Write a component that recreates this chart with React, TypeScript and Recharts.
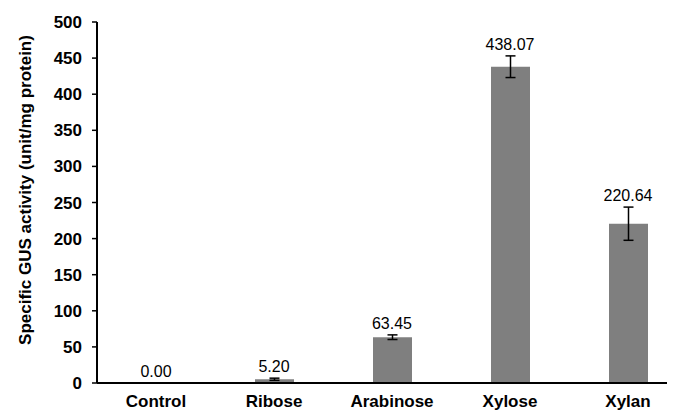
import React from "react";
import {
  ComposedChart,
  Bar,
  Line,
  XAxis,
  YAxis,
  ErrorBar,
  LabelList,
} from "recharts";

const categories = ["Control", "Ribose", "Arabinose", "Xylose", "Xylan"];
const activity = [0, 5.2, 63.45, 438.07, 220.64];
const errors = [0, 1.5, 3.2, 15, 23];
const yTicks = [0, 50, 100, 150, 200, 250, 300, 350, 400, 450, 500];

const FONT = "'Liberation Sans', Arial, sans-serif";
const BAR_COLOR = "#7f7f7f";

const data = categories.map((name, i) => ({
  name,
  value: activity[i],
  err: errors[i],
  top: activity[i] + errors[i],
}));

export default function App() {
  return (
    <div style={{ width: 667, height: 404, overflow: "hidden", background: "#fff" }}>
      <ComposedChart
        width={700}
        height={404}
        data={data}
        margin={{ top: 14, right: 21, bottom: 5, left: 19 }}
      >
        <XAxis
          dataKey="name"
          axisLine={{ stroke: "#000", strokeWidth: 2 }}
          tickLine={false}
          tickMargin={6}
          height={24}
          tick={{ fill: "#000", fontSize: 17, fontWeight: "bold", fontFamily: FONT }}
        />
        <YAxis
          domain={[0, 500]}
          ticks={yTicks}
          width={70}
          interval={0}
          axisLine={{ stroke: "#000", strokeWidth: 2 }}
          tickLine={{ stroke: "#000", strokeWidth: 1.5 }}
          tickSize={5}
          tickMargin={10}
          tick={{ fill: "#000", fontSize: 17, fontWeight: "bold", fontFamily: FONT }}
          label={{
            content: () => (
              <text
                x={17}
                y={182}
                transform="rotate(-90 17 182)"
                textAnchor="middle"
                dominantBaseline="central"
                fontSize={17}
                fontWeight="bold"
                fontFamily={FONT}
                fill="#000"
              >
                Specific GUS activity (unit/mg protein)
              </text>
            ),
          }}
        />
        <Bar dataKey="value" fill={BAR_COLOR} barSize={39} isAnimationActive={false}>
          <ErrorBar dataKey="err" width={5} stroke="#000" strokeWidth={1.5} />
        </Bar>
        <Line
          dataKey="top"
          stroke="none"
          dot={false}
          activeDot={false}
          isAnimationActive={false}
        >
          <LabelList
            dataKey="value"
            position="top"
            offset={6}
            formatter={(v: number) => Number(v).toFixed(2)}
            style={{ fill: "#000", fontSize: 16, fontFamily: FONT }}
          />
        </Line>
      </ComposedChart>
    </div>
  );
}
